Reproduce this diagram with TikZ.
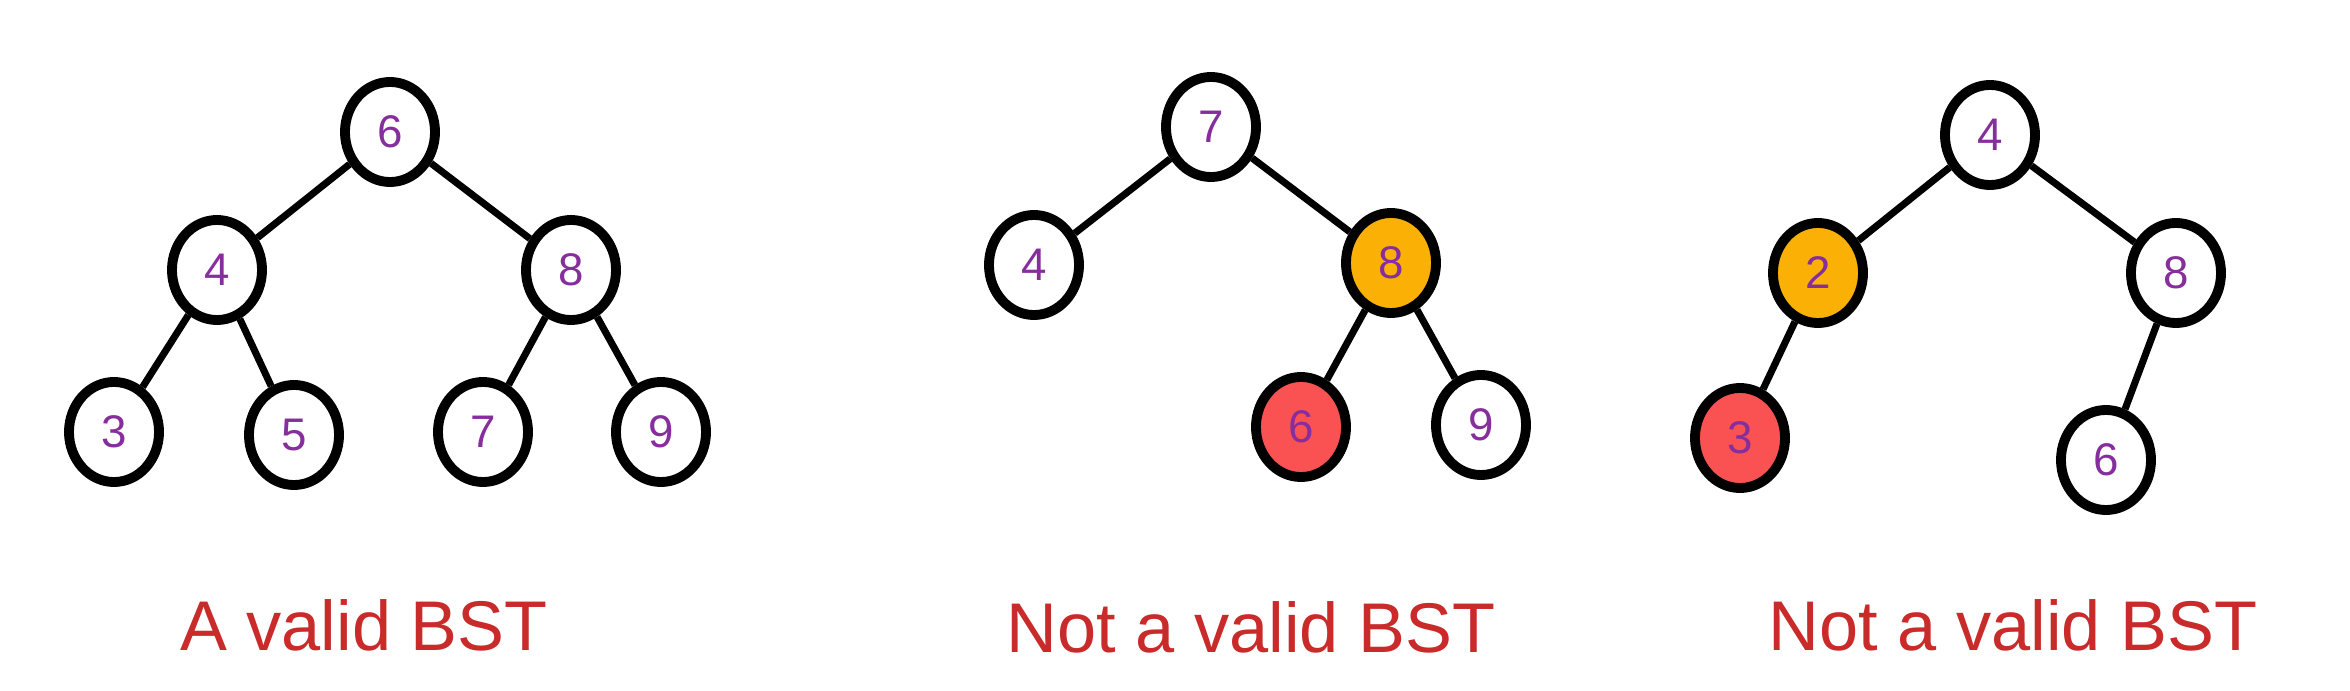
\documentclass[tikz,border=0pt]{standalone}
\usepackage{fontspec}
\setmainfont{Liberation Sans}
\usetikzlibrary{shapes.geometric}
\definecolor{nodepurple}{HTML}{862E9C}
\definecolor{warnorange}{HTML}{FAB005}
\definecolor{badred}{HTML}{FA5252}
\definecolor{labelred}{HTML}{C92A2A}
\begin{document}
\begin{tikzpicture}[x=0.01cm,y=-0.01cm,
  bstnode/.style={ellipse, draw=black, line width=2.8pt, fill=white,
    minimum width=0.9cm, minimum height=1.0cm, inner sep=0pt,
    text=nodepurple, font=\fontsize{13}{15}\selectfont},
  warnnode/.style={bstnode, fill=warnorange},
  badnode/.style={bstnode, fill=badred},
  treeedge/.style={line width=2pt, black},
  caption/.style={text=labelred, font=\fontsize{20}{24}\selectfont, anchor=base}]
\useasboundingbox (0,0) rectangle (2350,691);

% Tree 1
\node[bstnode] (a6) at (390,132) {6};
\node[bstnode] (a4) at (217,270) {4};
\node[bstnode] (a8) at (571,270) {8};
\node[bstnode] (a3) at (114,432) {3};
\node[bstnode] (a5) at (294,435) {5};
\node[bstnode] (a7) at (483,432) {7};
\node[bstnode] (a9) at (661,432) {9};
\draw[treeedge] (a6) -- (a4);
\draw[treeedge] (a6) -- (a8);
\draw[treeedge] (a4) -- (a3);
\draw[treeedge] (a4) -- (a5);
\draw[treeedge] (a8) -- (a7);
\draw[treeedge] (a8) -- (a9);
\node[caption] (la) at (364,650) {A valid BST};

% Tree 2
\node[bstnode] (b7) at (1211,127) {7};
\node[bstnode] (b4) at (1034,265) {4};
\node[warnnode] (b8) at (1391,263) {8};
\node[badnode] (b6) at (1301,427) {6};
\node[bstnode] (b9) at (1481,425) {9};
\draw[treeedge] (b7) -- (b4);
\draw[treeedge] (b7) -- (b8);
\draw[treeedge] (b8) -- (b6);
\draw[treeedge] (b8) -- (b9);
\node[caption] (lb) at (1251,652) {Not a valid BST};

% Tree 3
\node[bstnode] (c4) at (1990,135) {4};
\node[warnnode] (c2) at (1818,273) {2};
\node[bstnode] (c8) at (2176,273) {8};
\node[badnode] (c3) at (1740,438) {3};
\node[bstnode] (c6) at (2106,460) {6};
\draw[treeedge] (c4) -- (c2);
\draw[treeedge] (c4) -- (c8);
\draw[treeedge] (c2) -- (c3);
\draw[treeedge] (c8) -- (c6);
\node[caption] (lc) at (2013,650) {Not a valid BST};
\end{tikzpicture}
\end{document}
